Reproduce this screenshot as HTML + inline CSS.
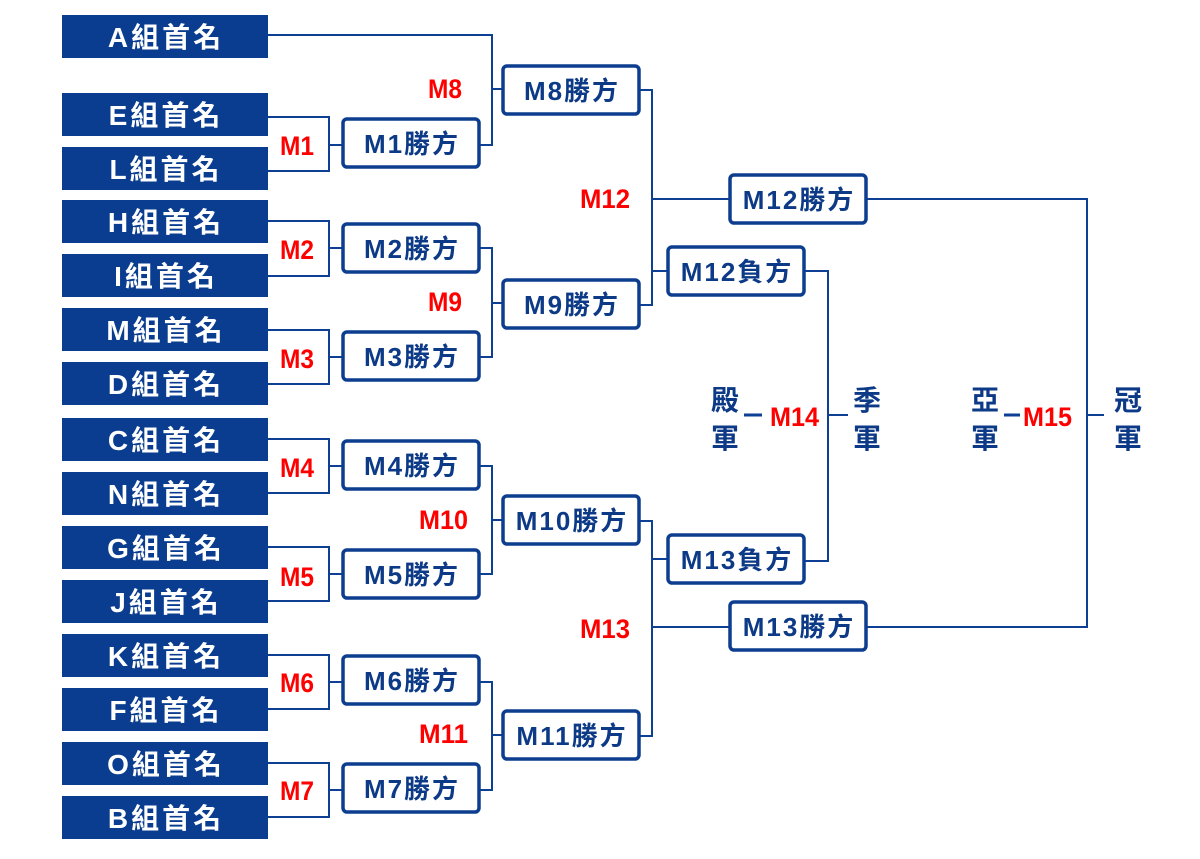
<!DOCTYPE html>
<html><head><meta charset="utf-8"><style>
html,body{margin:0;padding:0;background:#fff;}
svg{display:block}
.t{font-family:"Liberation Sans","Noto Sans CJK TC",sans-serif;font-weight:bold;}
.w{fill:#fff;font-size:28px;letter-spacing:3px}
.b{fill:#0d3a86;font-size:26px;letter-spacing:2px}
.r{fill:#f00;font-size:27px;font-family:"Liberation Sans",sans-serif;font-weight:bold}
.v{fill:#0d3a86;font-size:28px}
</style></head><body>
<svg width="1200" height="859" viewBox="0 0 1200 859" xmlns="http://www.w3.org/2000/svg">
<g fill="#0a3d8f">
<rect x="62" y="15" width="206" height="43"/>
<rect x="62" y="93" width="206" height="43"/>
<rect x="62" y="147" width="206" height="43"/>
<rect x="62" y="200" width="206" height="43"/>
<rect x="62" y="254" width="206" height="43"/>
<rect x="62" y="308" width="206" height="43"/>
<rect x="62" y="362" width="206" height="43"/>
<rect x="62" y="418" width="206" height="43"/>
<rect x="62" y="472" width="206" height="43"/>
<rect x="62" y="526" width="206" height="43"/>
<rect x="62" y="580" width="206" height="43"/>
<rect x="62" y="634" width="206" height="43"/>
<rect x="62" y="688" width="206" height="43"/>
<rect x="62" y="742" width="206" height="43"/>
<rect x="62" y="796" width="206" height="43"/>
</g>
<g class="t w" text-anchor="middle">
<text x="166" y="47">A組首名</text>
<text x="166" y="125">E組首名</text>
<text x="166" y="179">L組首名</text>
<text x="166" y="232">H組首名</text>
<text x="166" y="286">I組首名</text>
<text x="166" y="340">M組首名</text>
<text x="166" y="394">D組首名</text>
<text x="166" y="450">C組首名</text>
<text x="166" y="504">N組首名</text>
<text x="166" y="558">G組首名</text>
<text x="166" y="612">J組首名</text>
<text x="166" y="666">K組首名</text>
<text x="166" y="720">F組首名</text>
<text x="166" y="774">O組首名</text>
<text x="166" y="828">B組首名</text>
</g>
<g stroke="#0d3f94" stroke-width="2" fill="none">
<path d="M268 117H329V171H268M329 145H342"/>
<path d="M268 221H329V276H268M329 248H342"/>
<path d="M268 330H329V384H268M329 357H342"/>
<path d="M268 439H329V493H268M329 466H342"/>
<path d="M268 547H329V601H268M329 574H342"/>
<path d="M268 655H329V709H268M329 682H342"/>
<path d="M268 763H329V817H268M329 790H342"/>
<path d="M268 35H492V145H480M492 89H502"/>
<path d="M480 248H492V357H480M492 303H502"/>
<path d="M480 466H492V574H480M492 520H502"/>
<path d="M480 682H492V790H480M492 735H502"/>
<path d="M640 90H652V305H640M652 199H730M652 271H668"/>
<path d="M640 521H652V736H640M652 627H730M652 559H668"/>
<path d="M805 271H828V561H805M828 415H848"/>
<path d="M867 199H1087V627H867M1087 415H1104"/>
</g>
<g stroke="#0d3f94" stroke-width="3">
<path d="M744 415H762M1004 415H1020"/>
</g>
<g fill="#fff" stroke="#0c3d8f" stroke-width="3.5">
<rect x="343" y="119" width="136" height="48" rx="4"/>
<rect x="343" y="224" width="136" height="48" rx="4"/>
<rect x="343" y="332" width="136" height="48" rx="4"/>
<rect x="343" y="441" width="136" height="48" rx="4"/>
<rect x="343" y="550" width="136" height="48" rx="4"/>
<rect x="343" y="656" width="136" height="48" rx="4"/>
<rect x="343" y="764" width="136" height="48" rx="4"/>
<rect x="503" y="66" width="136" height="48" rx="4"/>
<rect x="503" y="280" width="136" height="48" rx="4"/>
<rect x="503" y="496" width="136" height="48" rx="4"/>
<rect x="503" y="711" width="136" height="48" rx="4"/>
<rect x="730" y="175" width="136" height="48" rx="4"/>
<rect x="668" y="247" width="136" height="48" rx="4"/>
<rect x="668" y="535" width="136" height="48" rx="4"/>
<rect x="730" y="602" width="136" height="48" rx="4"/>
</g>
<g class="t b" text-anchor="middle">
<text x="412" y="153">M1勝方</text>
<text x="412" y="258">M2勝方</text>
<text x="412" y="366">M3勝方</text>
<text x="412" y="475">M4勝方</text>
<text x="412" y="584">M5勝方</text>
<text x="412" y="690">M6勝方</text>
<text x="412" y="798">M7勝方</text>
<text x="572" y="100">M8勝方</text>
<text x="572" y="314">M9勝方</text>
<text x="572" y="530">M10勝方</text>
<text x="572" y="745">M11勝方</text>
<text x="799" y="209">M12勝方</text>
<text x="737" y="281">M12負方</text>
<text x="737" y="569">M13負方</text>
<text x="799" y="636">M13勝方</text>
</g>
<g class="r">
<text x="280" y="155" textLength="34" lengthAdjust="spacingAndGlyphs">M1</text>
<text x="280" y="259" textLength="34" lengthAdjust="spacingAndGlyphs">M2</text>
<text x="280" y="368" textLength="34" lengthAdjust="spacingAndGlyphs">M3</text>
<text x="280" y="477" textLength="34" lengthAdjust="spacingAndGlyphs">M4</text>
<text x="280" y="586" textLength="34" lengthAdjust="spacingAndGlyphs">M5</text>
<text x="280" y="692" textLength="34" lengthAdjust="spacingAndGlyphs">M6</text>
<text x="280" y="800" textLength="34" lengthAdjust="spacingAndGlyphs">M7</text>
<text x="428" y="98" textLength="34" lengthAdjust="spacingAndGlyphs">M8</text>
<text x="428" y="311" textLength="34" lengthAdjust="spacingAndGlyphs">M9</text>
<text x="419" y="529" textLength="49" lengthAdjust="spacingAndGlyphs">M10</text>
<text x="419" y="743" textLength="49" lengthAdjust="spacingAndGlyphs">M11</text>
<text x="580" y="208" textLength="50" lengthAdjust="spacingAndGlyphs">M12</text>
<text x="580" y="638" textLength="50" lengthAdjust="spacingAndGlyphs">M13</text>
<text x="770" y="426" textLength="49" lengthAdjust="spacingAndGlyphs">M14</text>
<text x="1023" y="426" textLength="49" lengthAdjust="spacingAndGlyphs">M15</text>
</g>
<g class="t v" text-anchor="middle">
<text x="725" y="410">殿</text><text x="725" y="448">軍</text>
<text x="867" y="410">季</text><text x="867" y="448">軍</text>
<text x="985" y="410">亞</text><text x="985" y="448">軍</text>
<text x="1128" y="410">冠</text><text x="1128" y="448">軍</text>
</g>
</svg>
</body></html>
